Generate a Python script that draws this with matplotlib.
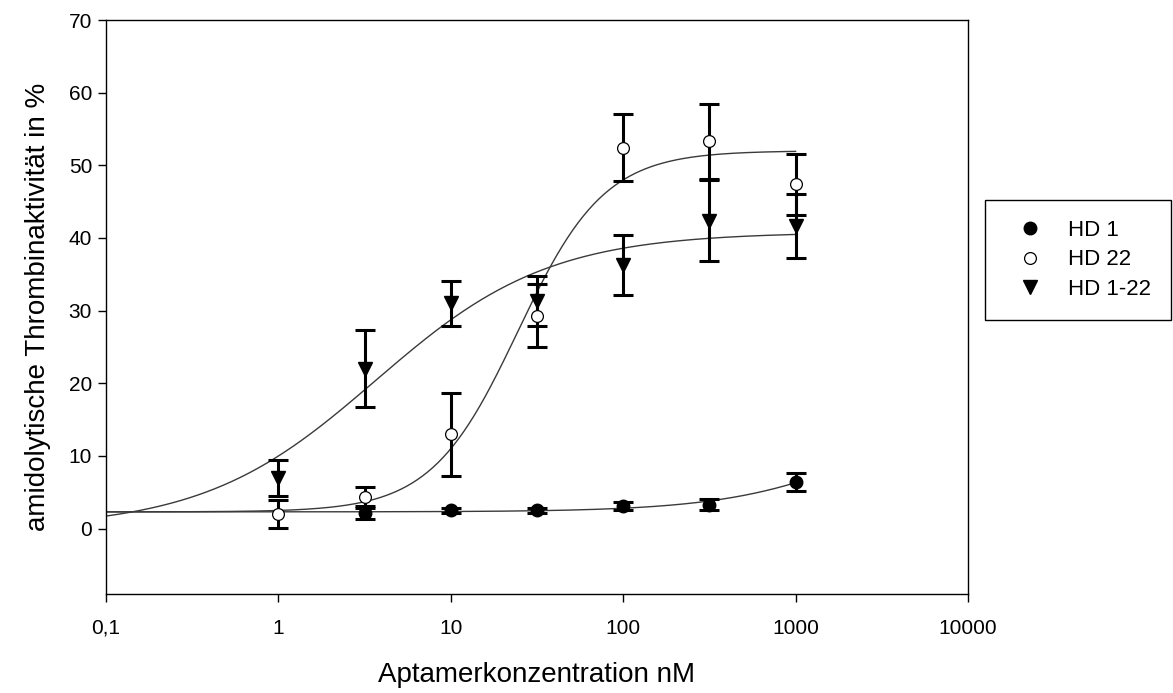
import numpy as np
import matplotlib
matplotlib.use("Agg")
import matplotlib.pyplot as plt
from matplotlib.lines import Line2D

plt.rcParams['font.family'] = ['Liberation Sans', 'DejaVu Sans']

# ---- data ----
series_names = ["HD 1", "HD 22", "HD 1-22"]

x_hd1 = [3.16, 10, 31.6, 100, 316, 1000]
y_hd1 = [2.1, 2.5, 2.5, 3.1, 3.3, 6.4]
e_hd1 = [0.8, 0.4, 0.4, 0.5, 0.8, 1.2]

x_hd22 = [1, 3.16, 10, 31.6, 100, 316, 1000]
y_hd22 = [2.0, 4.4, 13.0, 29.3, 52.4, 53.3, 47.4]
e_hd22 = [1.9, 1.3, 5.7, 4.3, 4.6, 5.2, 4.2]

x_hd122 = [1, 3.16, 10, 31.6, 100, 316, 1000]
y_hd122 = [7.0, 22.0, 31.0, 31.3, 36.3, 42.4, 41.7]
e_hd122 = [2.5, 5.3, 3.1, 3.4, 4.1, 5.6, 4.4]

# fitted 4-parameter logistic curves (bottom, top, EC50, hill)
fit_hd1 = [2.3, 20.0, 3400.0, 1.0]
fit_hd22 = [2.3, 52.0, 24.5, 1.73]
fit_hd122 = [0.0, 40.8, 3.67, 0.866]

x_ticks = [0.1, 1, 10, 100, 1000, 10000]
x_ticklabels = ["0,1", "1", "10", "100", "1000", "10000"]
y_ticks = [0, 10, 20, 30, 40, 50, 60, 70]

xlabel = "Aptamerkonzentration nM"
ylabel = "amidolytische Thrombinaktivität in %"


def logistic(x, p):
    b, t, ec, h = p
    return b + (t - b) / (1.0 + (ec / x) ** h)


fig = plt.figure(figsize=(11.73, 6.93), dpi=100)
ax = fig.add_axes([106 / 1173, 1 - 594 / 693, (968 - 106) / 1173, (594 - 20) / 693])

xc = np.logspace(-1, 3, 400)
curve_kw = dict(color="#3a3a3a", lw=1.0, zorder=2)
ax.plot(xc, logistic(xc, fit_hd1), **curve_kw)
ax.plot(xc, logistic(xc, fit_hd22), **curve_kw)
ax.plot(xc, logistic(xc, fit_hd122), **curve_kw)

eb_kw = dict(fmt="none", ecolor="black", elinewidth=2.2, capsize=7, capthick=2.2, zorder=3)
ax.errorbar(x_hd1, y_hd1, yerr=e_hd1, **eb_kw)
ax.errorbar(x_hd22, y_hd22, yerr=e_hd22, **eb_kw)
ax.errorbar(x_hd122, y_hd122, yerr=e_hd122, **eb_kw)

ax.plot(x_hd1, y_hd1, "o", ms=9, mfc="black", mec="black", zorder=4)
ax.plot(x_hd22, y_hd22, "o", ms=8.5, mfc="white", mec="black", mew=0.9, zorder=4)
ax.plot(x_hd122, y_hd122, "v", ms=10, mfc="black", mec="black", zorder=4)

ax.set_xscale("log")
ax.set_xlim(0.1, 10000)
ax.set_ylim(-9, 70)
ax.set_xticks(x_ticks)
ax.set_xticklabels(x_ticklabels)
ax.xaxis.set_minor_locator(matplotlib.ticker.NullLocator())
ax.set_yticks(y_ticks)
ax.tick_params(axis="both", direction="out", length=6, width=1, labelsize=15, colors="black")
ax.tick_params(axis="x", pad=12)
ax.tick_params(axis="y", pad=4)
for s in ax.spines.values():
    s.set_linewidth(1.0)
    s.set_color("black")

ax.set_xlabel(xlabel, fontsize=20, labelpad=17)
ax.set_ylabel(ylabel, fontsize=20, labelpad=13)

handles = [
    Line2D([], [], ls="none", marker="o", ms=9, mfc="black", mec="black"),
    Line2D([], [], ls="none", marker="o", ms=8.5, mfc="white", mec="black", mew=0.9),
    Line2D([], [], ls="none", marker="v", ms=10, mfc="black", mec="black"),
]
leg = fig.legend(handles, series_names, loc="upper left",
                 bbox_to_anchor=(985 / 1173, 1 - 200 / 693), fontsize=16,
                 frameon=True, fancybox=False, edgecolor="black", framealpha=1,
                 handlelength=2.25, handletextpad=0.6, labelspacing=0.38,
                 borderpad=0.9, borderaxespad=0)
leg.get_frame().set_linewidth(1.0)

fig.savefig("out.png", dpi=100)
